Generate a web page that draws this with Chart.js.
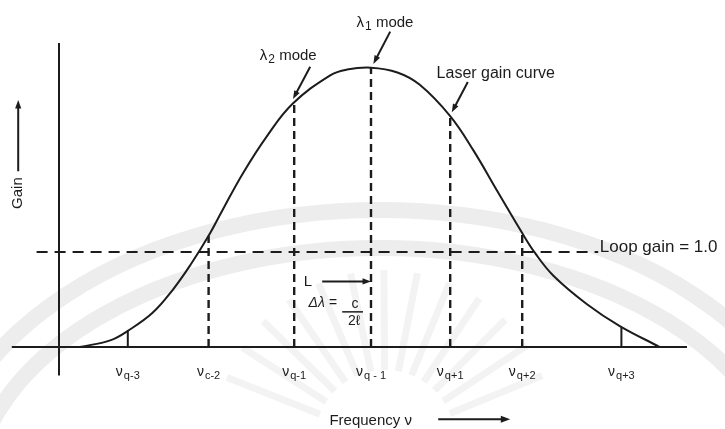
<!DOCTYPE html>
<html>
<head>
<meta charset="utf-8">
<script src="https://cdn.jsdelivr.net/npm/chart.js@4.4.0/dist/chart.umd.min.js"></script>
<style>
  html, body { margin: 0; padding: 0; background: #fff; }
  #wrap { width: 725px; height: 429px; }
</style>
</head>
<body>
<div id="wrap"><canvas id="gainChart" width="725" height="429"></canvas></div>
<script>
// frequency in mode spacings from the central mode, gain relative to loop gain
const curveFreq = [-3.64, -3.26, -3.04, -2.73, -2.48, -2.26, -2.03, -1.85, -1.60, -1.30, -0.98,
                   -0.51, -0.30, 0.00, 0.33, 0.61, 0.99, 1.28, 1.58, 1.89, 2.05, 2.28, 2.70, 3.11, 3.61];
const curveGain = [0.00, 0.07, 0.17, 0.36, 0.60, 0.86, 1.17, 1.45, 1.83, 2.22, 2.56,
                   2.86, 2.92, 2.94, 2.89, 2.76, 2.43, 2.07, 1.64, 1.20, 0.99, 0.75, 0.45, 0.22, 0.00];

const modeLabels = ['q-3', 'c-2', 'q-1', 'q - 1', 'q+1', 'q+2', 'q+3'];
const modeFreq = [-3.04, -2.03, -0.96, 0.00, 0.99, 1.89, 3.13];
const modeGain = [0.17, 1.17, 2.57, 2.94, 2.43, 1.20, 0.21];
const solidModes = [0, 6];

const loopGain = 1.0;
const loopRange = [-4.18, 2.84];
const freqAxisRange = [-4.49, 3.95];
const gainAxisRange = [-0.30, 3.20];
const gainAxisFreq = -3.90;

const ink = '#1c1c1c';
const font = '"Liberation Sans", Arial, sans-serif';

const datasets = [];

// the two axes
datasets.push({
  data: [{ x: freqAxisRange[0], y: 0 }, { x: freqAxisRange[1], y: 0 }],
  borderColor: ink, borderWidth: 2
});
datasets.push({
  data: [{ x: gainAxisFreq, y: gainAxisRange[0] }, { x: gainAxisFreq, y: gainAxisRange[1] }],
  borderColor: ink, borderWidth: 2
});

// loop gain threshold
datasets.push({
  data: [{ x: loopRange[0], y: loopGain }, { x: loopRange[1], y: loopGain }],
  borderColor: ink, borderWidth: 2, borderDash: [11, 7]
});

// longitudinal modes
modeFreq.forEach((f, i) => {
  const solid = solidModes.includes(i);
  datasets.push({
    data: [{ x: f, y: 0 }, { x: f, y: modeGain[i] }],
    borderColor: ink,
    borderWidth: solid ? 2 : 2.4,
    borderDash: solid ? [] : [8, 5]
  });
});

// laser gain curve
datasets.push({
  data: curveFreq.map((f, i) => ({ x: f, y: curveGain[i] })),
  borderColor: ink, borderWidth: 2,
  tension: 0.4
});

function arrow(ctx, x1, y1, x2, y2, head) {
  const a = Math.atan2(y2 - y1, x2 - x1);
  ctx.beginPath();
  ctx.moveTo(x1, y1);
  ctx.lineTo(x2 - Math.cos(a) * head * 0.8, y2 - Math.sin(a) * head * 0.8);
  ctx.stroke();
  ctx.beginPath();
  ctx.moveTo(x2, y2);
  ctx.lineTo(x2 - head * Math.cos(a - 0.35), y2 - head * Math.sin(a - 0.35));
  ctx.lineTo(x2 - head * Math.cos(a + 0.35), y2 - head * Math.sin(a + 0.35));
  ctx.closePath();
  ctx.fill();
}

// symbol with a lowered subscript, then optional trailing text
function subText(ctx, x, y, main, sub, rest, size, align) {
  const subSize = Math.round(size * 0.8);
  ctx.font = size + 'px ' + font;
  const wMain = ctx.measureText(main).width;
  const wRest = rest ? ctx.measureText(rest).width : 0;
  ctx.font = subSize + 'px ' + font;
  const wSub = ctx.measureText(sub).width;
  const total = wMain + wSub + wRest + 1;
  const left = align === 'center' ? x - total / 2 : x;
  ctx.textAlign = 'left';
  ctx.font = size + 'px ' + font;
  ctx.fillText(main, left, y);
  ctx.font = subSize + 'px ' + font;
  ctx.fillText(sub, left + wMain + 1, y + size * 0.22);
  if (rest) {
    ctx.font = size + 'px ' + font;
    ctx.fillText(rest, left + wMain + wSub + 1, y);
  }
}

const watermark = {
  id: 'watermark',
  beforeDatasetsDraw(chart) {
    const ctx = chart.ctx;
    ctx.save();
    ctx.strokeStyle = '#ededed';
    ctx.lineWidth = 16;
    ctx.beginPath();
    ctx.ellipse(380, 500, 444, 290, 0, Math.PI, 2 * Math.PI);
    ctx.stroke();
    ctx.beginPath();
    ctx.ellipse(380, 500, 408, 252, 0, Math.PI, 2 * Math.PI);
    ctx.stroke();
    ctx.lineWidth = 7;
    ctx.strokeStyle = '#f3f3f3';
    for (let k = 0; k < 13; k++) {
      const a = Math.PI * (1.12 + k * 0.063);
      ctx.beginPath();
      ctx.moveTo(385 + Math.cos(a) * 70, 440 + Math.sin(a) * 70);
      ctx.lineTo(385 + Math.cos(a) * 170, 440 + Math.sin(a) * 170);
      ctx.stroke();
    }
    ctx.restore();
  }
};

const labels = {
  id: 'labels',
  afterDatasetsDraw(chart) {
    const ctx = chart.ctx;
    const sx = chart.scales.x, sy = chart.scales.y;
    const X = v => sx.getPixelForValue(v);
    const Y = v => sy.getPixelForValue(v);
    ctx.save();
    ctx.fillStyle = ink;
    ctx.strokeStyle = ink;
    ctx.lineWidth = 2;
    ctx.textBaseline = 'alphabetic';

    // mode frequencies under the axis
    modeFreq.forEach((f, i) => {
      subText(ctx, X(f), Y(-0.30), '\u03bd', modeLabels[i], '', 14, 'center');
    });

    // mode call-outs
    subText(ctx, X(-1.39), Y(3.02), '\u03bb', '2', ' mode', 15, 'left');
    arrow(ctx, X(-0.76), Y(2.95), X(-0.975), Y(2.61), 9);
    subText(ctx, X(-0.18), Y(3.37), '\u03bb', '1', ' mode', 15, 'left');
    arrow(ctx, X(0.24), Y(3.32), X(0.03), Y(2.98), 9);

    ctx.font = '16px ' + font;
    ctx.textAlign = 'left';
    ctx.fillText('Laser gain curve', X(0.82), Y(2.83));
    arrow(ctx, X(1.21), Y(2.79), X(1.01), Y(2.47), 9);

    ctx.font = '17px ' + font;
    ctx.textBaseline = 'middle';
    ctx.fillText('Loop gain = 1.0', X(2.86), Y(loopGain + 0.05));

    // axis titles
    ctx.save();
    ctx.translate(X(-4.41), Y(1.62));
    ctx.rotate(-Math.PI / 2);
    ctx.font = '15px ' + font;
    ctx.textAlign = 'center';
    ctx.fillText('Gain', 0, 0);
    ctx.restore();
    arrow(ctx, X(-4.41), Y(1.85), X(-4.41), Y(2.6), 9);

    ctx.textBaseline = 'alphabetic';
    ctx.textAlign = 'left';
    ctx.font = '15px ' + font;
    ctx.fillText('Frequency \u03bd', X(-0.52), Y(-0.82));
    arrow(ctx, X(0.84), Y(-0.76), X(1.74), Y(-0.76), 10);

    // mode spacing note
    ctx.font = '15px ' + font;
    ctx.fillText('L', X(-0.84), Y(0.64));
    arrow(ctx, X(-0.61), Y(0.69), X(0.0), Y(0.69), 9);
    ctx.font = 'italic 14px ' + font;
    ctx.fillText('\u0394\u03bb =', X(-0.78), Y(0.42));
    ctx.font = '14px ' + font;
    ctx.textAlign = 'center';
    ctx.fillText('c', X(-0.20), Y(0.41));
    ctx.fillText('2\u2113', X(-0.21), Y(0.23));
    ctx.lineWidth = 1.5;
    ctx.beginPath();
    ctx.moveTo(X(-0.36), Y(0.37));
    ctx.lineTo(X(-0.10), Y(0.37));
    ctx.stroke();

    ctx.restore();
  }
};

new Chart(document.getElementById('gainChart'), {
  type: 'scatter',
  data: { datasets: datasets },
  options: {
    responsive: false,
    animation: false,
    layout: { padding: 0 },
    datasets: { scatter: { showLine: true, pointRadius: 0, fill: false } },
    plugins: { legend: { display: false }, tooltip: { enabled: false } },
    scales: {
      x: { type: 'linear', min: -4.6375, max: 4.425, display: false },
      y: { type: 'linear', min: -0.863, max: 3.6526, display: false }
    }
  },
  plugins: [watermark, labels]
});
</script>
</body>
</html>
